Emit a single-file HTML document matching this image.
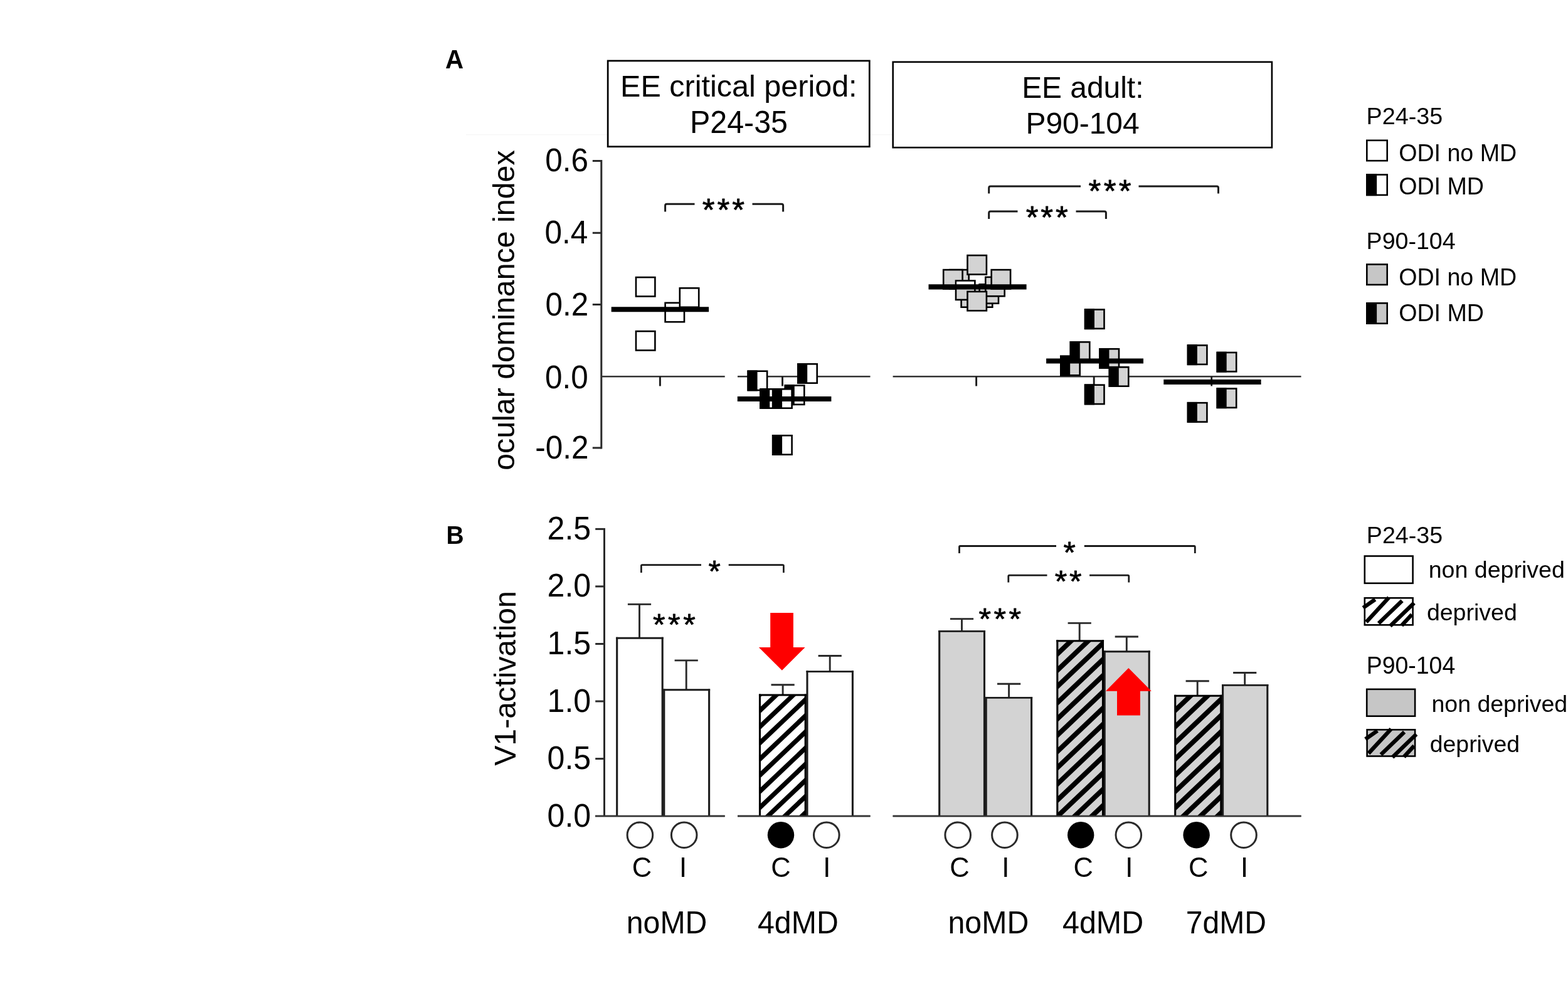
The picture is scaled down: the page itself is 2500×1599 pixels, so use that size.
<!DOCTYPE html>
<html lang="en"><head><meta charset="utf-8"><title>Figure</title>
<style>
html,body{margin:0;padding:0;background:#fff;}
body{width:2500px;height:1599px;overflow:hidden;}
svg{display:block;font-family:"Liberation Sans",sans-serif;}
text{fill:#000;}
</style></head><body>
<svg width="2500" height="1599" viewBox="0 0 2500 1599">
<rect width="2500" height="1599" fill="#fff"/>

<text x="710.09" y="109.00" font-size="40.30" font-weight="700" fill="#000" transform="translate(0 109.00) scale(1 1.075) translate(0 -109.00)">A</text>
<text x="711.56" y="867.40" font-size="39.02" font-weight="700" fill="#000" transform="translate(0 867.40) scale(1 1.05) translate(0 -867.40)">B</text>
<line x1="743.00" y1="214.80" x2="968.00" y2="214.80" stroke="#f4f4f4" stroke-width="1" stroke-linecap="butt"/>
<line x1="1388.00" y1="214.80" x2="1423.00" y2="214.80" stroke="#f4f4f4" stroke-width="1" stroke-linecap="butt"/>
<rect x="969.15" y="96.95" width="417.15" height="136.80" fill="#fff" stroke="#000" stroke-width="2.7"/>
<text x="989.12" y="154.00" font-size="48.53" fill="#000">EE critical period:</text>
<text x="1100.03" y="211.90" font-size="48.37" fill="#000" transform="translate(0 211.90) scale(1 1.022) translate(0 -211.90)">P24-35</text>
<rect x="1423.70" y="98.80" width="604.20" height="136.40" fill="#fff" stroke="#000" stroke-width="2.6"/>
<text x="1629.17" y="155.60" font-size="47.88" fill="#000">EE adult:</text>
<text x="1635.47" y="212.80" font-size="47.93" fill="#000" transform="translate(0 212.80) scale(1 1.015) translate(0 -212.80)">P90-104</text>
<line x1="958.80" y1="255.00" x2="958.80" y2="715.50" stroke="#2a2a2a" stroke-width="3" stroke-linecap="butt"/>
<line x1="944.80" y1="256.50" x2="958.80" y2="256.50" stroke="#2a2a2a" stroke-width="3" stroke-linecap="butt"/>
<line x1="944.80" y1="371.30" x2="958.80" y2="371.30" stroke="#2a2a2a" stroke-width="3" stroke-linecap="butt"/>
<line x1="944.80" y1="485.50" x2="958.80" y2="485.50" stroke="#2a2a2a" stroke-width="3" stroke-linecap="butt"/>
<line x1="944.80" y1="714.00" x2="958.80" y2="714.00" stroke="#2a2a2a" stroke-width="3" stroke-linecap="butt"/>
<text x="869.32" y="273.00" font-size="49.50" fill="#000" transform="translate(0 273.00) scale(1 1.04) translate(0 -273.00)">0.6</text>
<text x="868.58" y="387.80" font-size="49.50" fill="#000" transform="translate(0 387.80) scale(1 1.04) translate(0 -387.80)">0.4</text>
<text x="869.57" y="502.70" font-size="49.50" fill="#000" transform="translate(0 502.70) scale(1 1.04) translate(0 -502.70)">0.2</text>
<text x="869.07" y="619.30" font-size="49.50" fill="#000" transform="translate(0 619.30) scale(1 1.04) translate(0 -619.30)">0.0</text>
<text x="853.24" y="731.40" font-size="49.50" fill="#000" transform="translate(0 731.40) scale(1 1.04) translate(0 -731.40)">-0.2</text>
<text transform="translate(820.40 749.83) rotate(-90)" x="0" y="0" font-size="48.34">ocular dominance index</text>
<line x1="958.80" y1="600.30" x2="1155.70" y2="600.30" stroke="#333" stroke-width="2.5" stroke-linecap="butt"/>
<line x1="1176.00" y1="600.30" x2="1387.50" y2="600.30" stroke="#333" stroke-width="2.5" stroke-linecap="butt"/>
<line x1="1423.60" y1="600.30" x2="2074.50" y2="600.30" stroke="#333" stroke-width="2.5" stroke-linecap="butt"/>
<line x1="1052.40" y1="600.30" x2="1052.40" y2="615.50" stroke="#1c1c1c" stroke-width="2.9" stroke-linecap="butt"/>
<line x1="1247.50" y1="600.30" x2="1247.50" y2="615.50" stroke="#1c1c1c" stroke-width="2.9" stroke-linecap="butt"/>
<line x1="1556.60" y1="600.30" x2="1556.60" y2="615.50" stroke="#1c1c1c" stroke-width="2.9" stroke-linecap="butt"/>
<line x1="1744.20" y1="600.30" x2="1744.20" y2="615.50" stroke="#1c1c1c" stroke-width="2.9" stroke-linecap="butt"/>
<line x1="1931.70" y1="600.30" x2="1931.70" y2="615.50" stroke="#1c1c1c" stroke-width="2.9" stroke-linecap="butt"/>
<rect x="1060.60" y="482.80" width="30.40" height="30.40" fill="#fff" stroke="#000" stroke-width="2.6"/>
<rect x="1083.80" y="459.30" width="30.40" height="30.40" fill="#fff" stroke="#000" stroke-width="2.6"/>
<rect x="1014.00" y="442.10" width="30.40" height="30.40" fill="#fff" stroke="#000" stroke-width="2.6"/>
<rect x="1014.00" y="528.10" width="30.40" height="30.40" fill="#fff" stroke="#000" stroke-width="2.6"/>
<line x1="974.70" y1="493.20" x2="1130.10" y2="493.20" stroke="#000" stroke-width="8"/>
<rect x="1272.30" y="580.30" width="30.40" height="30.40" fill="#fff" stroke="#000" stroke-width="2.6"/>
<rect x="1271.00" y="579.00" width="16.17" height="33.00" fill="#000"/>
<rect x="1192.70" y="591.70" width="30.40" height="30.40" fill="#fff" stroke="#000" stroke-width="2.6"/>
<rect x="1191.40" y="590.40" width="16.17" height="33.00" fill="#000"/>
<rect x="1251.90" y="614.50" width="30.40" height="30.40" fill="#fff" stroke="#000" stroke-width="2.6"/>
<rect x="1250.60" y="613.20" width="16.17" height="33.00" fill="#000"/>
<rect x="1212.40" y="620.30" width="30.40" height="30.40" fill="#fff" stroke="#000" stroke-width="2.6"/>
<rect x="1211.10" y="619.00" width="16.17" height="33.00" fill="#000"/>
<rect x="1232.20" y="620.30" width="30.40" height="30.40" fill="#fff" stroke="#000" stroke-width="2.6"/>
<rect x="1230.90" y="619.00" width="16.17" height="33.00" fill="#000"/>
<rect x="1232.20" y="694.30" width="30.40" height="30.40" fill="#fff" stroke="#000" stroke-width="2.6"/>
<rect x="1230.90" y="693.00" width="16.17" height="33.00" fill="#000"/>
<line x1="1175.80" y1="636.00" x2="1325.40" y2="636.00" stroke="#000" stroke-width="8"/>
<rect x="1532.60" y="459.30" width="30.40" height="30.40" fill="#d3d3d3" stroke="#000" stroke-width="2.6"/>
<rect x="1551.90" y="459.30" width="30.40" height="30.40" fill="#d3d3d3" stroke="#000" stroke-width="2.6"/>
<rect x="1561.60" y="453.30" width="30.40" height="30.40" fill="#d3d3d3" stroke="#000" stroke-width="2.6"/>
<rect x="1571.30" y="441.80" width="30.40" height="30.40" fill="#d3d3d3" stroke="#000" stroke-width="2.6"/>
<rect x="1514.30" y="430.10" width="30.40" height="30.40" fill="#d3d3d3" stroke="#000" stroke-width="2.6"/>
<rect x="1504.20" y="430.10" width="30.40" height="30.40" fill="#d3d3d3" stroke="#000" stroke-width="2.6"/>
<rect x="1580.70" y="430.10" width="30.40" height="30.40" fill="#d3d3d3" stroke="#000" stroke-width="2.6"/>
<rect x="1524.00" y="447.50" width="30.40" height="30.40" fill="#d3d3d3" stroke="#000" stroke-width="2.6"/>
<rect x="1525.2" y="448.9" width="27.8" height="4.5" fill="#fff"/>
<rect x="1542.50" y="407.10" width="30.40" height="30.40" fill="#d3d3d3" stroke="#000" stroke-width="2.6"/>
<rect x="1542.50" y="464.90" width="30.40" height="30.40" fill="#d3d3d3" stroke="#000" stroke-width="2.6"/>
<line x1="1480.50" y1="457.40" x2="1636.60" y2="457.40" stroke="#000" stroke-width="8.3"/>
<rect x="1730.10" y="493.50" width="30.40" height="30.40" fill="#d3d3d3" stroke="#000" stroke-width="2.6"/>
<rect x="1728.80" y="492.20" width="16.17" height="33.00" fill="#000"/>
<rect x="1691.30" y="567.90" width="30.40" height="30.40" fill="#d3d3d3" stroke="#000" stroke-width="2.6"/>
<rect x="1690.00" y="566.60" width="16.17" height="33.00" fill="#000"/>
<rect x="1706.90" y="545.30" width="30.40" height="30.40" fill="#d3d3d3" stroke="#000" stroke-width="2.6"/>
<rect x="1705.60" y="544.00" width="16.17" height="33.00" fill="#000"/>
<rect x="1753.60" y="556.30" width="30.40" height="30.40" fill="#d3d3d3" stroke="#000" stroke-width="2.6"/>
<rect x="1752.30" y="555.00" width="16.17" height="33.00" fill="#000"/>
<rect x="1768.90" y="585.30" width="30.40" height="30.40" fill="#d3d3d3" stroke="#000" stroke-width="2.6"/>
<rect x="1767.60" y="584.00" width="16.17" height="33.00" fill="#000"/>
<rect x="1730.10" y="613.70" width="30.40" height="30.40" fill="#d3d3d3" stroke="#000" stroke-width="2.6"/>
<rect x="1728.80" y="612.40" width="16.17" height="33.00" fill="#000"/>
<line x1="1668.10" y1="575.40" x2="1823.00" y2="575.40" stroke="#000" stroke-width="8"/>
<rect x="1894.00" y="550.50" width="30.40" height="30.40" fill="#d3d3d3" stroke="#000" stroke-width="2.6"/>
<rect x="1892.70" y="549.20" width="16.17" height="33.00" fill="#000"/>
<rect x="1940.80" y="562.00" width="30.40" height="30.40" fill="#d3d3d3" stroke="#000" stroke-width="2.6"/>
<rect x="1939.50" y="560.70" width="16.17" height="33.00" fill="#000"/>
<rect x="1940.80" y="619.50" width="30.40" height="30.40" fill="#d3d3d3" stroke="#000" stroke-width="2.6"/>
<rect x="1939.50" y="618.20" width="16.17" height="33.00" fill="#000"/>
<rect x="1894.00" y="642.20" width="30.40" height="30.40" fill="#d3d3d3" stroke="#000" stroke-width="2.6"/>
<rect x="1892.70" y="640.90" width="16.17" height="33.00" fill="#000"/>
<line x1="1855.30" y1="609.00" x2="2010.60" y2="609.00" stroke="#000" stroke-width="8"/>
<path d="M1060.60 337.50 V327.70 Q1060.60 325.20 1063.10 325.20 H1107.50" fill="none" stroke="#1a1a1a" stroke-width="3" stroke-linecap="butt"/>
<path d="M1199.50 325.20 H1246.10 Q1248.60 325.20 1248.60 327.70 V337.50" fill="none" stroke="#1a1a1a" stroke-width="3" stroke-linecap="butt"/>
<text x="1119.68" y="352.50" font-size="50.86" letter-spacing="3.96" transform="translate(0 352.50) scale(1 0.989) translate(0 -352.50)" stroke="#000" stroke-width="0.8" stroke-linejoin="round">***</text>
<path d="M1576.70 308.50 V299.50 Q1576.70 297.00 1579.20 297.00 H1723.00" fill="none" stroke="#1a1a1a" stroke-width="3" stroke-linecap="butt"/>
<path d="M1815.50 297.00 H1940.00 Q1942.50 297.00 1942.50 299.50 V308.50" fill="none" stroke="#1a1a1a" stroke-width="3" stroke-linecap="butt"/>
<text x="1735.58" y="322.30" font-size="50.86" letter-spacing="4.36" transform="translate(0 322.30) scale(1 0.989) translate(0 -322.30)" stroke="#000" stroke-width="0.8" stroke-linejoin="round">***</text>
<path d="M1576.70 349.00 V339.50 Q1576.70 337.00 1579.20 337.00 H1622.50" fill="none" stroke="#1a1a1a" stroke-width="3" stroke-linecap="butt"/>
<path d="M1715.50 337.00 H1760.90 Q1763.40 337.00 1763.40 339.50 V349.00" fill="none" stroke="#1a1a1a" stroke-width="3" stroke-linecap="butt"/>
<text x="1635.68" y="363.90" font-size="50.86" letter-spacing="3.86" transform="translate(0 363.90) scale(1 0.989) translate(0 -363.90)" stroke="#000" stroke-width="0.8" stroke-linejoin="round">***</text>
<text x="2178.58" y="198.20" font-size="37.75" fill="#000">P24-35</text>
<rect x="2179.30" y="223.80" width="32.40" height="32.40" fill="#fff" stroke="#000" stroke-width="2.6"/>
<text x="2230.21" y="256.90" font-size="37.60" fill="#000" transform="translate(0 256.90) scale(1 1.04) translate(0 -256.90)">ODI no MD</text>
<rect x="2179.30" y="278.50" width="32.40" height="32.40" fill="#fff" stroke="#000" stroke-width="2.6"/>
<rect x="2178.00" y="277.20" width="17.15" height="35.00" fill="#000"/>
<text x="2230.21" y="310.10" font-size="37.61" fill="#000" transform="translate(0 310.10) scale(1 1.04) translate(0 -310.10)">ODI MD</text>
<text x="2178.59" y="396.60" font-size="37.57" fill="#000">P90-104</text>
<rect x="2179.30" y="421.50" width="32.40" height="32.40" fill="#c6c6c6" stroke="#000" stroke-width="2.6"/>
<text x="2230.21" y="454.90" font-size="37.60" fill="#000" transform="translate(0 454.90) scale(1 1.04) translate(0 -454.90)">ODI no MD</text>
<rect x="2179.30" y="483.30" width="32.40" height="32.40" fill="#c6c6c6" stroke="#000" stroke-width="2.6"/>
<rect x="2178.00" y="482.00" width="17.15" height="35.00" fill="#000"/>
<text x="2230.21" y="512.40" font-size="37.61" fill="#000" transform="translate(0 512.40) scale(1 1.04) translate(0 -512.40)">ODI MD</text>
<line x1="963.50" y1="841.90" x2="963.50" y2="1301.10" stroke="#2a2a2a" stroke-width="3" stroke-linecap="butt"/>
<line x1="949.20" y1="843.40" x2="963.50" y2="843.40" stroke="#2a2a2a" stroke-width="3" stroke-linecap="butt"/>
<line x1="949.20" y1="934.90" x2="963.50" y2="934.90" stroke="#2a2a2a" stroke-width="3" stroke-linecap="butt"/>
<line x1="949.20" y1="1026.50" x2="963.50" y2="1026.50" stroke="#2a2a2a" stroke-width="3" stroke-linecap="butt"/>
<line x1="949.20" y1="1118.00" x2="963.50" y2="1118.00" stroke="#2a2a2a" stroke-width="3" stroke-linecap="butt"/>
<line x1="949.20" y1="1209.60" x2="963.50" y2="1209.60" stroke="#2a2a2a" stroke-width="3" stroke-linecap="butt"/>
<text x="872.57" y="860.00" font-size="50.10" fill="#000" transform="translate(0 860.00) scale(1 1.03) translate(0 -860.00)">2.5</text>
<text x="872.57" y="951.50" font-size="50.10" fill="#000" transform="translate(0 951.50) scale(1 1.03) translate(0 -951.50)">2.0</text>
<text x="872.56" y="1043.10" font-size="50.10" fill="#000" transform="translate(0 1043.10) scale(1 1.03) translate(0 -1043.10)">1.5</text>
<text x="872.56" y="1134.60" font-size="50.10" fill="#000" transform="translate(0 1134.60) scale(1 1.03) translate(0 -1134.60)">1.0</text>
<text x="872.57" y="1226.20" font-size="50.10" fill="#000" transform="translate(0 1226.20) scale(1 1.03) translate(0 -1226.20)">0.5</text>
<text x="872.57" y="1317.70" font-size="50.10" fill="#000" transform="translate(0 1317.70) scale(1 1.03) translate(0 -1317.70)">0.0</text>
<text transform="translate(822.30 1220.84) rotate(-90)" x="0" y="0" font-size="48.23">V1-activation</text>
<line x1="949.00" y1="1301.10" x2="1155.70" y2="1301.10" stroke="#333" stroke-width="2.5" stroke-linecap="butt"/>
<line x1="1176.00" y1="1301.10" x2="1387.50" y2="1301.10" stroke="#333" stroke-width="2.5" stroke-linecap="butt"/>
<line x1="1423.60" y1="1301.10" x2="2074.50" y2="1301.10" stroke="#333" stroke-width="2.5" stroke-linecap="butt"/>
<line x1="1094.20" y1="1052.90" x2="1094.20" y2="1099.80" stroke="#2a2a2a" stroke-width="2.9" stroke-linecap="butt"/>
<line x1="1075.60" y1="1052.90" x2="1112.80" y2="1052.90" stroke="#2a2a2a" stroke-width="2.9" stroke-linecap="butt"/>
<rect x="1058.80" y="1099.80" width="71.80" height="201.30" fill="#fff"/>
<line x1="1058.80" y1="1098.35" x2="1058.80" y2="1301.10" stroke="#1c1c1c" stroke-width="3.1" stroke-linecap="butt"/>
<line x1="1130.60" y1="1098.35" x2="1130.60" y2="1301.10" stroke="#1c1c1c" stroke-width="3.1" stroke-linecap="butt"/>
<line x1="1057.25" y1="1099.80" x2="1132.15" y2="1099.80" stroke="#1c1c1c" stroke-width="2.9" stroke-linecap="butt"/>
<line x1="1019.50" y1="963.40" x2="1019.50" y2="1017.30" stroke="#2a2a2a" stroke-width="2.9" stroke-linecap="butt"/>
<line x1="1000.90" y1="963.40" x2="1038.10" y2="963.40" stroke="#2a2a2a" stroke-width="2.9" stroke-linecap="butt"/>
<rect x="983.70" y="1017.30" width="72.50" height="283.80" fill="#fff"/>
<line x1="983.70" y1="1015.85" x2="983.70" y2="1301.10" stroke="#1c1c1c" stroke-width="3.1" stroke-linecap="butt"/>
<line x1="1056.20" y1="1015.85" x2="1056.20" y2="1301.10" stroke="#1c1c1c" stroke-width="3.1" stroke-linecap="butt"/>
<line x1="982.15" y1="1017.30" x2="1057.75" y2="1017.30" stroke="#1c1c1c" stroke-width="2.9" stroke-linecap="butt"/>
<line x1="1323.20" y1="1045.50" x2="1323.20" y2="1070.60" stroke="#2a2a2a" stroke-width="2.9" stroke-linecap="butt"/>
<line x1="1304.60" y1="1045.50" x2="1341.80" y2="1045.50" stroke="#2a2a2a" stroke-width="2.9" stroke-linecap="butt"/>
<rect x="1287.00" y="1070.60" width="72.40" height="230.50" fill="#fff"/>
<line x1="1287.00" y1="1069.15" x2="1287.00" y2="1301.10" stroke="#1c1c1c" stroke-width="3.1" stroke-linecap="butt"/>
<line x1="1359.40" y1="1069.15" x2="1359.40" y2="1301.10" stroke="#1c1c1c" stroke-width="3.1" stroke-linecap="butt"/>
<line x1="1285.45" y1="1070.60" x2="1360.95" y2="1070.60" stroke="#1c1c1c" stroke-width="2.9" stroke-linecap="butt"/>
<line x1="1248.10" y1="1091.80" x2="1248.10" y2="1108.00" stroke="#2a2a2a" stroke-width="2.9" stroke-linecap="butt"/>
<line x1="1229.50" y1="1091.80" x2="1266.70" y2="1091.80" stroke="#2a2a2a" stroke-width="2.9" stroke-linecap="butt"/>
<rect x="1211.50" y="1108.00" width="72.70" height="193.10" fill="#fff"/>
<clipPath id="hc1"><rect x="1211.50" y="1108.00" width="72.70" height="193.10"/></clipPath>
<g clip-path="url(#hc1)" stroke="#000" stroke-width="7.3" stroke-linecap="butt"><line x1="1205.50" y1="1112.84" x2="1290.20" y2="1032.47"/><line x1="1205.50" y1="1138.59" x2="1290.20" y2="1058.22"/><line x1="1205.50" y1="1164.34" x2="1290.20" y2="1083.97"/><line x1="1205.50" y1="1190.09" x2="1290.20" y2="1109.72"/><line x1="1205.50" y1="1215.84" x2="1290.20" y2="1135.47"/><line x1="1205.50" y1="1241.59" x2="1290.20" y2="1161.22"/><line x1="1205.50" y1="1267.34" x2="1290.20" y2="1186.97"/><line x1="1205.50" y1="1293.09" x2="1290.20" y2="1212.72"/><line x1="1205.50" y1="1318.84" x2="1290.20" y2="1238.47"/><line x1="1205.50" y1="1344.59" x2="1290.20" y2="1264.22"/><line x1="1205.50" y1="1370.34" x2="1290.20" y2="1289.97"/><line x1="1205.50" y1="1396.09" x2="1290.20" y2="1315.72"/></g>
<line x1="1211.50" y1="1106.55" x2="1211.50" y2="1301.10" stroke="#000" stroke-width="3.1" stroke-linecap="butt"/>
<line x1="1284.20" y1="1106.55" x2="1284.20" y2="1301.10" stroke="#000" stroke-width="3.1" stroke-linecap="butt"/>
<line x1="1209.95" y1="1108.00" x2="1285.75" y2="1108.00" stroke="#000" stroke-width="2.9" stroke-linecap="butt"/>
<line x1="1608.60" y1="1090.20" x2="1608.60" y2="1112.40" stroke="#2a2a2a" stroke-width="2.9" stroke-linecap="butt"/>
<line x1="1590.00" y1="1090.20" x2="1627.20" y2="1090.20" stroke="#2a2a2a" stroke-width="2.9" stroke-linecap="butt"/>
<rect x="1572.20" y="1112.40" width="72.40" height="188.70" fill="#d3d3d3"/>
<line x1="1572.20" y1="1110.95" x2="1572.20" y2="1301.10" stroke="#1c1c1c" stroke-width="3.1" stroke-linecap="butt"/>
<line x1="1644.60" y1="1110.95" x2="1644.60" y2="1301.10" stroke="#1c1c1c" stroke-width="3.1" stroke-linecap="butt"/>
<line x1="1570.65" y1="1112.40" x2="1646.15" y2="1112.40" stroke="#1c1c1c" stroke-width="2.9" stroke-linecap="butt"/>
<line x1="1533.50" y1="986.60" x2="1533.50" y2="1006.40" stroke="#2a2a2a" stroke-width="2.9" stroke-linecap="butt"/>
<line x1="1514.90" y1="986.60" x2="1552.10" y2="986.60" stroke="#2a2a2a" stroke-width="2.9" stroke-linecap="butt"/>
<rect x="1497.70" y="1006.40" width="71.80" height="294.70" fill="#d3d3d3"/>
<line x1="1497.70" y1="1004.95" x2="1497.70" y2="1301.10" stroke="#1c1c1c" stroke-width="3.1" stroke-linecap="butt"/>
<line x1="1569.50" y1="1004.95" x2="1569.50" y2="1301.10" stroke="#1c1c1c" stroke-width="3.1" stroke-linecap="butt"/>
<line x1="1496.15" y1="1006.40" x2="1571.05" y2="1006.40" stroke="#1c1c1c" stroke-width="2.9" stroke-linecap="butt"/>
<line x1="1796.30" y1="1015.00" x2="1796.30" y2="1038.80" stroke="#2a2a2a" stroke-width="2.9" stroke-linecap="butt"/>
<line x1="1777.70" y1="1015.00" x2="1814.90" y2="1015.00" stroke="#2a2a2a" stroke-width="2.9" stroke-linecap="butt"/>
<rect x="1761.20" y="1038.80" width="71.00" height="262.30" fill="#d3d3d3"/>
<line x1="1761.20" y1="1037.35" x2="1761.20" y2="1301.10" stroke="#1c1c1c" stroke-width="3.1" stroke-linecap="butt"/>
<line x1="1832.20" y1="1037.35" x2="1832.20" y2="1301.10" stroke="#1c1c1c" stroke-width="3.1" stroke-linecap="butt"/>
<line x1="1759.65" y1="1038.80" x2="1833.75" y2="1038.80" stroke="#1c1c1c" stroke-width="2.9" stroke-linecap="butt"/>
<line x1="1721.20" y1="993.40" x2="1721.20" y2="1021.70" stroke="#2a2a2a" stroke-width="2.9" stroke-linecap="butt"/>
<line x1="1702.60" y1="993.40" x2="1739.80" y2="993.40" stroke="#2a2a2a" stroke-width="2.9" stroke-linecap="butt"/>
<rect x="1685.80" y="1021.70" width="72.70" height="279.40" fill="#d3d3d3"/>
<clipPath id="hc2"><rect x="1685.80" y="1021.70" width="72.70" height="279.40"/></clipPath>
<g clip-path="url(#hc2)" stroke="#000" stroke-width="7.8" stroke-linecap="butt"><line x1="1679.80" y1="1022.39" x2="1764.50" y2="942.02"/><line x1="1679.80" y1="1048.29" x2="1764.50" y2="967.92"/><line x1="1679.80" y1="1074.19" x2="1764.50" y2="993.82"/><line x1="1679.80" y1="1100.09" x2="1764.50" y2="1019.72"/><line x1="1679.80" y1="1125.99" x2="1764.50" y2="1045.62"/><line x1="1679.80" y1="1151.89" x2="1764.50" y2="1071.52"/><line x1="1679.80" y1="1177.79" x2="1764.50" y2="1097.42"/><line x1="1679.80" y1="1203.69" x2="1764.50" y2="1123.32"/><line x1="1679.80" y1="1229.59" x2="1764.50" y2="1149.22"/><line x1="1679.80" y1="1255.49" x2="1764.50" y2="1175.12"/><line x1="1679.80" y1="1281.39" x2="1764.50" y2="1201.02"/><line x1="1679.80" y1="1307.29" x2="1764.50" y2="1226.92"/><line x1="1679.80" y1="1333.19" x2="1764.50" y2="1252.82"/><line x1="1679.80" y1="1359.09" x2="1764.50" y2="1278.72"/><line x1="1679.80" y1="1384.99" x2="1764.50" y2="1304.62"/></g>
<line x1="1685.80" y1="1020.25" x2="1685.80" y2="1301.10" stroke="#000" stroke-width="3.1" stroke-linecap="butt"/>
<line x1="1758.50" y1="1020.25" x2="1758.50" y2="1301.10" stroke="#000" stroke-width="3.1" stroke-linecap="butt"/>
<line x1="1684.25" y1="1021.70" x2="1760.05" y2="1021.70" stroke="#000" stroke-width="2.9" stroke-linecap="butt"/>
<line x1="1984.70" y1="1072.50" x2="1984.70" y2="1092.40" stroke="#2a2a2a" stroke-width="2.9" stroke-linecap="butt"/>
<line x1="1966.10" y1="1072.50" x2="2003.30" y2="1072.50" stroke="#2a2a2a" stroke-width="2.9" stroke-linecap="butt"/>
<rect x="1949.60" y="1092.40" width="71.20" height="208.70" fill="#d3d3d3"/>
<line x1="1949.60" y1="1090.95" x2="1949.60" y2="1301.10" stroke="#1c1c1c" stroke-width="3.1" stroke-linecap="butt"/>
<line x1="2020.80" y1="1090.95" x2="2020.80" y2="1301.10" stroke="#1c1c1c" stroke-width="3.1" stroke-linecap="butt"/>
<line x1="1948.05" y1="1092.40" x2="2022.35" y2="1092.40" stroke="#1c1c1c" stroke-width="2.9" stroke-linecap="butt"/>
<line x1="1909.20" y1="1085.80" x2="1909.20" y2="1109.20" stroke="#2a2a2a" stroke-width="2.9" stroke-linecap="butt"/>
<line x1="1890.60" y1="1085.80" x2="1927.80" y2="1085.80" stroke="#2a2a2a" stroke-width="2.9" stroke-linecap="butt"/>
<rect x="1873.70" y="1109.20" width="73.10" height="191.90" fill="#d3d3d3"/>
<clipPath id="hc3"><rect x="1873.70" y="1109.20" width="73.10" height="191.90"/></clipPath>
<g clip-path="url(#hc3)" stroke="#000" stroke-width="7.8" stroke-linecap="butt"><line x1="1867.70" y1="1112.34" x2="1952.80" y2="1031.59"/><line x1="1867.70" y1="1138.19" x2="1952.80" y2="1057.44"/><line x1="1867.70" y1="1164.04" x2="1952.80" y2="1083.29"/><line x1="1867.70" y1="1189.89" x2="1952.80" y2="1109.14"/><line x1="1867.70" y1="1215.74" x2="1952.80" y2="1134.99"/><line x1="1867.70" y1="1241.59" x2="1952.80" y2="1160.84"/><line x1="1867.70" y1="1267.44" x2="1952.80" y2="1186.69"/><line x1="1867.70" y1="1293.29" x2="1952.80" y2="1212.54"/><line x1="1867.70" y1="1319.14" x2="1952.80" y2="1238.39"/><line x1="1867.70" y1="1344.99" x2="1952.80" y2="1264.24"/><line x1="1867.70" y1="1370.84" x2="1952.80" y2="1290.09"/><line x1="1867.70" y1="1396.69" x2="1952.80" y2="1315.94"/></g>
<line x1="1873.70" y1="1107.75" x2="1873.70" y2="1301.10" stroke="#000" stroke-width="3.1" stroke-linecap="butt"/>
<line x1="1946.80" y1="1107.75" x2="1946.80" y2="1301.10" stroke="#000" stroke-width="3.1" stroke-linecap="butt"/>
<line x1="1872.15" y1="1109.20" x2="1948.35" y2="1109.20" stroke="#000" stroke-width="2.9" stroke-linecap="butt"/>
<line x1="949.00" y1="1301.10" x2="1155.70" y2="1301.10" stroke="#333" stroke-width="2.5" stroke-linecap="butt"/>
<line x1="1176.00" y1="1301.10" x2="1387.50" y2="1301.10" stroke="#333" stroke-width="2.5" stroke-linecap="butt"/>
<line x1="1423.60" y1="1301.10" x2="2074.50" y2="1301.10" stroke="#333" stroke-width="2.5" stroke-linecap="butt"/>
<path d="M1022.40 912.90 V902.10 Q1022.40 900.60 1023.90 900.60 H1118.00" fill="none" stroke="#1a1a1a" stroke-width="2.7" stroke-linecap="butt"/>
<path d="M1161.70 900.60 H1247.90 Q1249.40 900.60 1249.40 902.10 V912.90" fill="none" stroke="#1a1a1a" stroke-width="2.7" stroke-linecap="butt"/>
<text x="1129.51" y="927.01" font-size="49.71" transform="translate(0 927.01) scale(1 0.977) translate(0 -927.01)" stroke="#000" stroke-width="0.8" stroke-linejoin="round">*</text>
<text x="1040.99" y="1012.41" font-size="50.29" letter-spacing="4.53" transform="translate(0 1012.41) scale(1 0.966) translate(0 -1012.41)" stroke="#000" stroke-width="0.8" stroke-linejoin="round">***</text>
<path d="M1529.50 882.00 V872.00 Q1529.50 870.50 1531.00 870.50 H1684.00" fill="none" stroke="#1a1a1a" stroke-width="2.8" stroke-linecap="butt"/>
<path d="M1728.80 870.50 H1903.80 Q1905.30 870.50 1905.30 872.00 V882.00" fill="none" stroke="#1a1a1a" stroke-width="2.8" stroke-linecap="butt"/>
<text x="1695.61" y="896.51" font-size="49.71" transform="translate(0 896.51) scale(1 0.977) translate(0 -896.51)" stroke="#000" stroke-width="0.8" stroke-linejoin="round">*</text>
<path d="M1607.80 928.60 V918.70 Q1607.80 917.20 1609.30 917.20 H1669.50" fill="none" stroke="#1a1a1a" stroke-width="2.8" stroke-linecap="butt"/>
<path d="M1737.10 917.20 H1798.30 Q1799.80 917.20 1799.80 918.70 V928.60" fill="none" stroke="#1a1a1a" stroke-width="2.8" stroke-linecap="butt"/>
<text x="1681.69" y="942.91" font-size="50.29" letter-spacing="3.63" transform="translate(0 942.91) scale(1 0.966) translate(0 -942.91)" stroke="#000" stroke-width="0.8" stroke-linejoin="round">**</text>
<text x="1560.39" y="1002.71" font-size="50.29" letter-spacing="4.48" transform="translate(0 1002.71) scale(1 0.966) translate(0 -1002.71)" stroke="#000" stroke-width="0.8" stroke-linejoin="round">***</text>
<path d="M1228.2 977 H1264.9 V1031.9 H1283.6 L1246.8 1068.8 L1209.9 1031.9 H1228.2 Z" fill="#fe0000"/>
<path d="M1799.3 1065.1 L1835.8 1101.7 H1817.9 V1140.5 H1781 V1101.7 H1763 Z" fill="#fe0000"/>
<circle cx="1020.4" cy="1331.2" r="20.3" fill="#fff" stroke="#2a2a2a" stroke-width="3.0"/>
<circle cx="1090.7" cy="1331.2" r="20.3" fill="#fff" stroke="#2a2a2a" stroke-width="3.0"/>
<circle cx="1245.0" cy="1331.2" r="21.2" fill="#000"/>
<circle cx="1317.8" cy="1331.2" r="20.3" fill="#fff" stroke="#2a2a2a" stroke-width="3.0"/>
<circle cx="1527.2" cy="1331.2" r="20.3" fill="#fff" stroke="#2a2a2a" stroke-width="3.0"/>
<circle cx="1601.9" cy="1331.2" r="20.3" fill="#fff" stroke="#2a2a2a" stroke-width="3.0"/>
<circle cx="1723.2" cy="1331.2" r="21.2" fill="#000"/>
<circle cx="1799.3" cy="1331.2" r="20.3" fill="#fff" stroke="#2a2a2a" stroke-width="3.0"/>
<circle cx="1907.6" cy="1331.2" r="21.2" fill="#000"/>
<circle cx="1983" cy="1331.2" r="20.3" fill="#fff" stroke="#2a2a2a" stroke-width="3.0"/>
<text x="1007.73" y="1398.20" font-size="43.49" fill="#000" transform="translate(0 1398.20) scale(1 1.03) translate(0 -1398.20)">C</text>
<text x="1229.33" y="1398.20" font-size="43.49" fill="#000" transform="translate(0 1398.20) scale(1 1.03) translate(0 -1398.20)">C</text>
<text x="1514.23" y="1398.20" font-size="43.49" fill="#000" transform="translate(0 1398.20) scale(1 1.03) translate(0 -1398.20)">C</text>
<text x="1711.53" y="1398.20" font-size="43.49" fill="#000" transform="translate(0 1398.20) scale(1 1.03) translate(0 -1398.20)">C</text>
<text x="1894.93" y="1398.20" font-size="43.49" fill="#000" transform="translate(0 1398.20) scale(1 1.03) translate(0 -1398.20)">C</text>
<text x="1083.12" y="1398.30" font-size="43.50" fill="#000" transform="translate(0 1398.30) scale(1 1.04) translate(0 -1398.30)">I</text>
<text x="1312.32" y="1398.30" font-size="43.50" fill="#000" transform="translate(0 1398.30) scale(1 1.04) translate(0 -1398.30)">I</text>
<text x="1597.32" y="1398.30" font-size="43.50" fill="#000" transform="translate(0 1398.30) scale(1 1.04) translate(0 -1398.30)">I</text>
<text x="1794.32" y="1398.30" font-size="43.50" fill="#000" transform="translate(0 1398.30) scale(1 1.04) translate(0 -1398.30)">I</text>
<text x="1978.02" y="1398.30" font-size="43.50" fill="#000" transform="translate(0 1398.30) scale(1 1.04) translate(0 -1398.30)">I</text>
<text x="998.76" y="1488.20" font-size="48.26" fill="#000" transform="translate(0 1488.20) scale(1 1.025) translate(0 -1488.20)">noMD</text>
<text x="1207.99" y="1488.20" font-size="48.29" fill="#000" transform="translate(0 1488.20) scale(1 1.025) translate(0 -1488.20)">4dMD</text>
<text x="1511.46" y="1488.20" font-size="48.34" fill="#000" transform="translate(0 1488.20) scale(1 1.025) translate(0 -1488.20)">noMD</text>
<text x="1693.99" y="1488.20" font-size="48.44" fill="#000" transform="translate(0 1488.20) scale(1 1.025) translate(0 -1488.20)">4dMD</text>
<text x="1890.80" y="1488.20" font-size="48.09" fill="#000" transform="translate(0 1488.20) scale(1 1.025) translate(0 -1488.20)">7dMD</text>
<text x="2178.79" y="865.70" font-size="37.65" fill="#000">P24-35</text>
<rect x="2175.80" y="886.50" width="76.80" height="43.30" fill="#fff" stroke="#000" stroke-width="2.6"/>
<text x="2277.76" y="920.70" font-size="37.54" fill="#000">non deprived</text>
<rect x="2175.80" y="953.30" width="76.80" height="43.00" fill="#fff" stroke="#000" stroke-width="2.6"/>
<line x1="2173.40" y1="969.00" x2="2192.50" y2="955.60" stroke="#000" stroke-width="6.3" stroke-linecap="butt"/>
<line x1="2178.40" y1="991.60" x2="2214.40" y2="952.70" stroke="#000" stroke-width="6.3" stroke-linecap="butt"/>
<line x1="2198.10" y1="993.70" x2="2235.50" y2="957.70" stroke="#000" stroke-width="6.3" stroke-linecap="butt"/>
<line x1="2216.50" y1="997.90" x2="2254.60" y2="961.20" stroke="#000" stroke-width="6.3" stroke-linecap="butt"/>
<line x1="2234.80" y1="997.20" x2="2251.10" y2="979.60" stroke="#000" stroke-width="6.3" stroke-linecap="butt"/>
<text x="2274.90" y="988.50" font-size="37.51" fill="#000">deprived</text>
<text x="2178.81" y="1074.00" font-size="37.41" fill="#000" transform="translate(0 1074.00) scale(1 1.02) translate(0 -1074.00)">P90-104</text>
<rect x="2179.20" y="1098.80" width="76.90" height="42.90" fill="#c6c6c6" stroke="#000" stroke-width="2.6"/>
<text x="2282.46" y="1134.60" font-size="37.49" fill="#000">non deprived</text>
<rect x="2179.60" y="1163.30" width="76.50" height="42.20" fill="#c6c6c6" stroke="#000" stroke-width="2.6"/>
<line x1="2177.00" y1="1178.40" x2="2196.10" y2="1165.00" stroke="#000" stroke-width="6.3" stroke-linecap="butt"/>
<line x1="2182.00" y1="1201.00" x2="2218.00" y2="1162.10" stroke="#000" stroke-width="6.3" stroke-linecap="butt"/>
<line x1="2201.70" y1="1203.10" x2="2239.10" y2="1167.10" stroke="#000" stroke-width="6.3" stroke-linecap="butt"/>
<line x1="2220.10" y1="1207.30" x2="2258.20" y2="1170.60" stroke="#000" stroke-width="6.3" stroke-linecap="butt"/>
<line x1="2238.40" y1="1206.60" x2="2254.70" y2="1189.00" stroke="#000" stroke-width="6.3" stroke-linecap="butt"/>
<text x="2279.81" y="1198.90" font-size="37.37" fill="#000">deprived</text>
</svg></body></html>
